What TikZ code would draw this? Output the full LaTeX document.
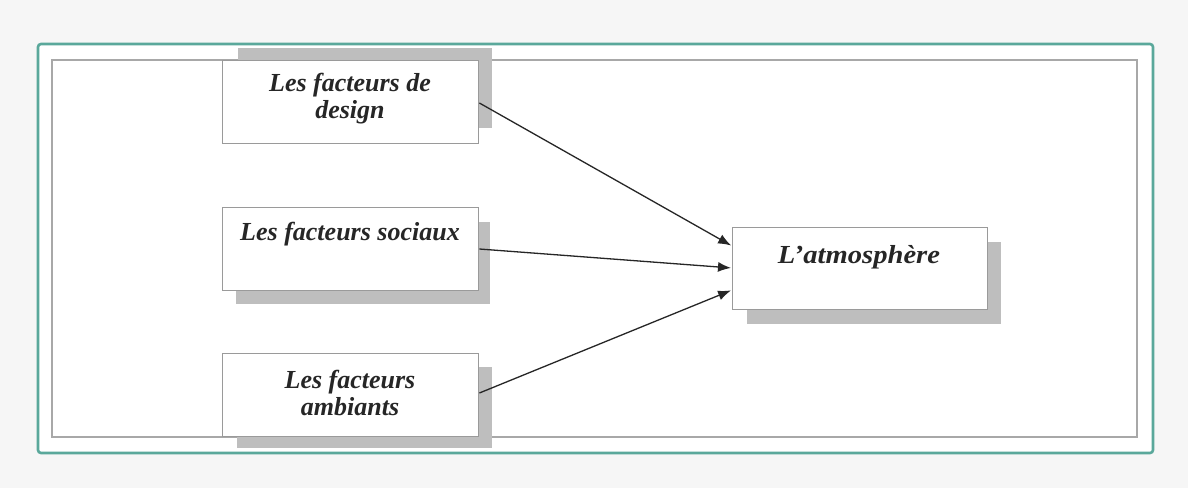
\documentclass[tikz,border=0pt]{standalone}
\usepackage{fontspec}
\usepackage{graphicx}
\setmainfont{Liberation Serif}
\usetikzlibrary{arrows.meta}
\definecolor{bgc}{HTML}{F6F6F6}
\definecolor{tealc}{HTML}{5AA89B}
\definecolor{innerc}{HTML}{A8A8A8}
\definecolor{shadc}{HTML}{BEBEBE}
\definecolor{boxc}{HTML}{9A9A9A}
\tikzset{
  factbox/.style={draw=boxc, line width=1.4pt, fill=white, rectangle, inner sep=0pt, anchor=north west, minimum width=256pt, minimum height=83pt},
  shadowbox/.style={fill=shadc, draw=none, rectangle, inner sep=0pt, anchor=north west},
  lbl/.style={font=\fontsize{26}{27}\selectfont\bfseries\itshape, align=center, inner sep=0pt, text=black!85},
  arr/.style={-{Latex[length=13pt,width=10pt]}, line width=1.3pt, black!85, shorten >=1pt}
}
\begin{document}
\begin{tikzpicture}[x=1pt,y=-1pt]
\useasboundingbox (0,0) rectangle (1188,488);
\fill[bgc] (0,0) rectangle (1188,488);
\draw[tealc, line width=2.6pt, fill=white, rounded corners=3pt] (38,44) rectangle (1153,453);
\draw[innerc, line width=1.2pt] (52,60) rectangle (1137,437);
% shadows
\node[shadowbox, minimum width=254pt, minimum height=80pt] (s1) at (238,48) {};
\node[shadowbox, minimum width=254pt, minimum height=82pt] (s2) at (236,222) {};
\node[shadowbox, minimum width=255pt, minimum height=81pt] (s3) at (237,367) {};
\node[shadowbox, minimum width=254pt, minimum height=82pt] (s4) at (747,242) {};
% boxes
\node[factbox] (b1) at (222,60) {};
\node[factbox] (b2) at (222,207) {};
\node[factbox] (b3) at (222,353) {};
\node[factbox, minimum width=255pt, minimum height=82pt] (b4) at (732,227) {};
% labels
\node[lbl] (t1) at (350,99) {Les facteurs de\\design};
\node[lbl] (t2) at (350,234) {Les facteurs sociaux};
\node[lbl] (t3) at (350,393) {Les facteurs\\ambiants};
\node[lbl] (t4) at (859,257) {\scalebox{1.1}[1]{L’atmosphère}};
% arrows
\coordinate (e1) at (732,246);
\coordinate (e2) at (732,268);
\coordinate (e3) at (732,290);
\draw[arr] (b1.east |- 0,103) -- (e1);
\draw[arr] (b2.east |- 0,249) -- (e2);
\draw[arr] (b3.east |- 0,393) -- (e3);
\end{tikzpicture}
\end{document}
